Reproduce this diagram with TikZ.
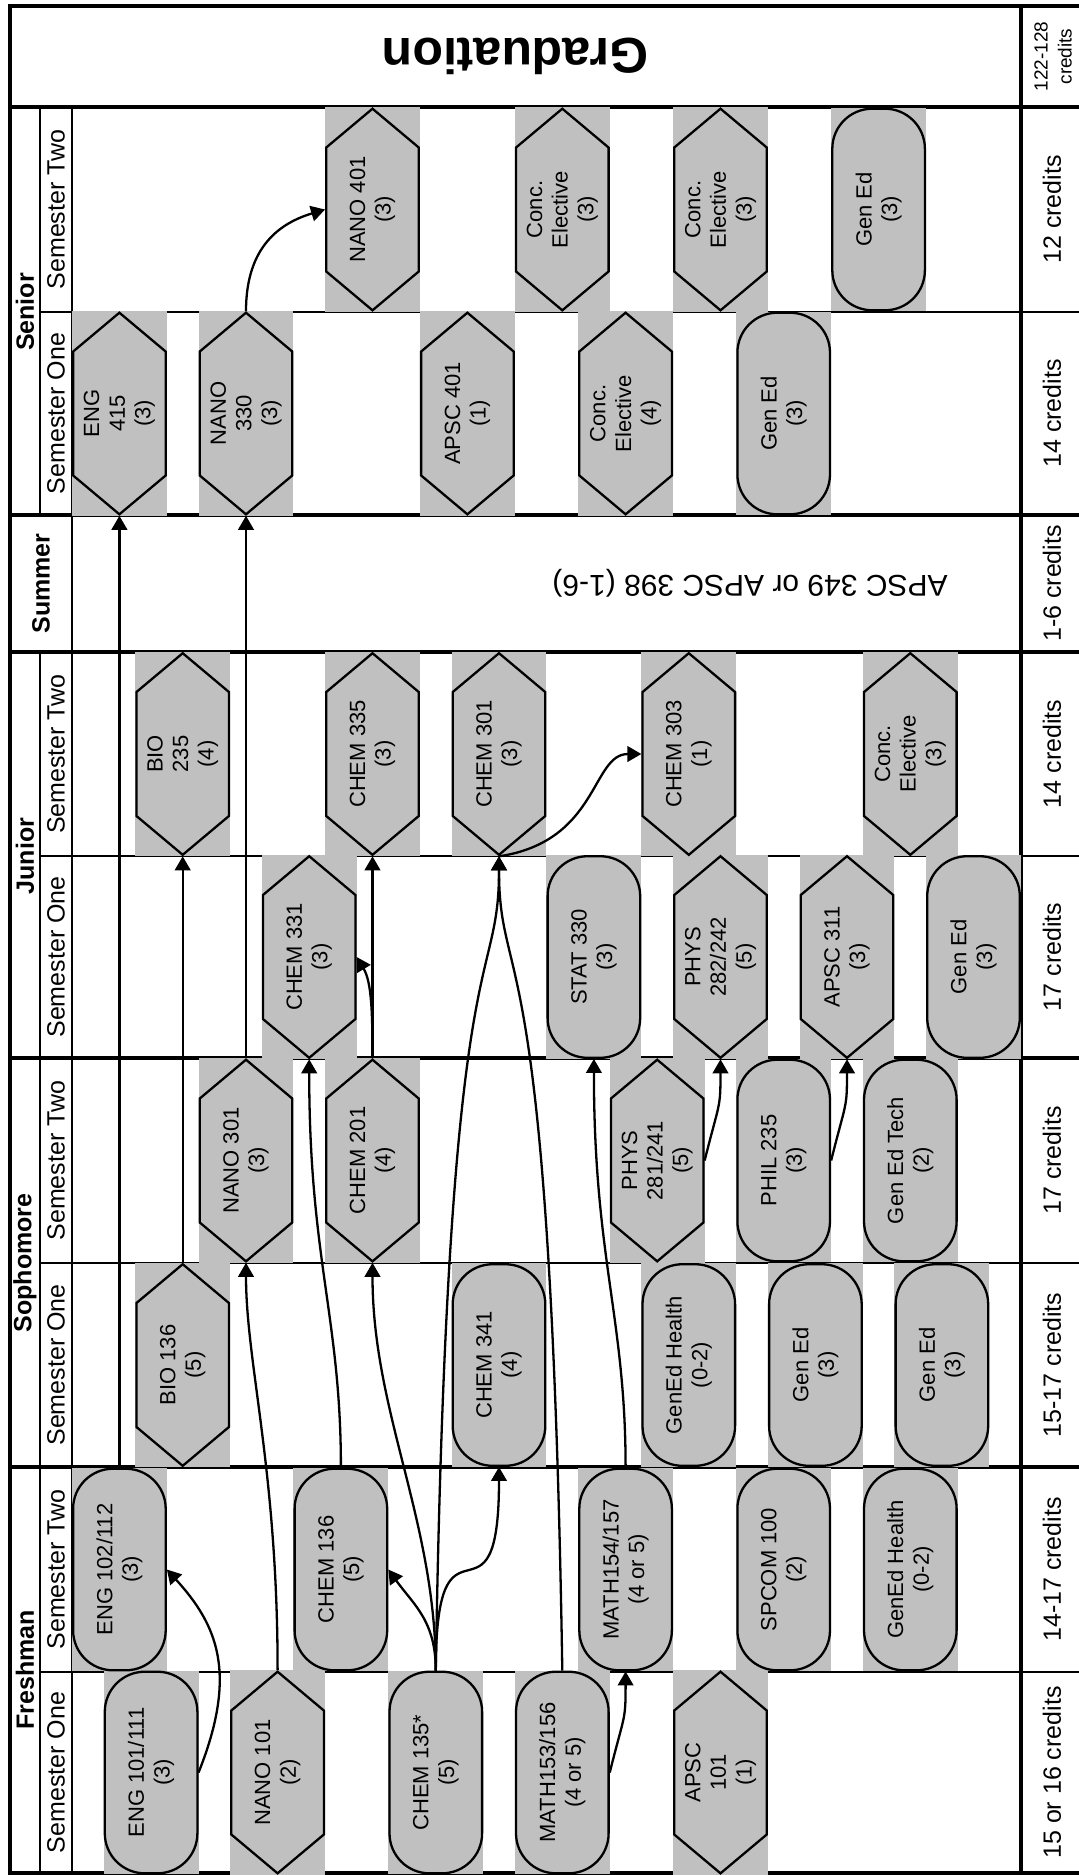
\documentclass[tikz,border=0pt]{standalone}
\usepackage{fontspec}
\setmainfont{Liberation Sans}
\usepackage{xcolor}
\usepackage{tikz}
\usetikzlibrary{shapes.symbols, arrows.meta, backgrounds}
\definecolor{cellgray}{RGB}{192,192,192}

\begin{document}
\begin{tikzpicture}[
  x=0.5pt, y=-0.5pt,
  every node/.style={font=\fontsize{11}{12.8}\selectfont},
  hexcourse/.style={
    signal, signal to=east and west, signal pointer angle=100,
    draw=black, fill=cellgray, line width=1.15pt,
    minimum width=100.8pt, minimum height=46.3pt,
    inner sep=0pt, align=center, rotate=90
  },
  roundcourse/.style={
    rectangle, rounded corners=20pt,
    draw=black, fill=cellgray, line width=1.15pt,
    minimum width=100.8pt, minimum height=46.3pt,
    inner sep=0pt, align=center, rotate=90
  },
  yearlabel/.style={font=\fontsize{12.5}{15}\selectfont\bfseries, rotate=90},
  semlabel/.style={font=\fontsize{12.5}{15}\selectfont, rotate=90},
  credits/.style={font=\fontsize{12.5}{15}\selectfont, rotate=90},
  gradlabel/.style={font=\fontsize{25}{30}\selectfont\bfseries, rotate=180},
  summertext/.style={font=\fontsize{15}{18}\selectfont, rotate=180},
  yearline/.style={line width=2.2pt},
  semline/.style={line width=1.1pt},
  stripline/.style={line width=1.2pt},
  creditline/.style={line width=1.6pt},
  prereq/.style={-{Triangle[length=7pt, width=7.8pt]}, line width=1.15pt}
]
\useasboundingbox (0,0) rectangle (1078,1875);

% ── Year and semester labels ─────────────────────────────────
\node[yearlabel] (freshman) at (25,1670) {Freshman};
\node[yearlabel] (sophomore) at (25,1263) {Sophomore};
\node[yearlabel] (junior) at (25,856) {Junior};
\node[yearlabel] (summer) at (41,583.5) {Summer};
\node[yearlabel] (senior) at (25,312) {Senior};

\node[semlabel] (frone) at (56,1772.5) {Semester One};
\node[semlabel] (frtwo) at (56,1569.5) {Semester Two};
\node[semlabel] (soone) at (56,1365) {Semester One};
\node[semlabel] (sotwo) at (56,1160.5) {Semester Two};
\node[semlabel] (juone) at (56,957) {Semester One};
\node[semlabel] (jutwo) at (56,754) {Semester Two};
\node[semlabel] (seone) at (56,413.5) {Semester One};
\node[semlabel] (setwo) at (56,209.5) {Semester Two};

% ── Credit totals ────────────────────────────────────────────
\node[credits] (froneCr) at (1052,1772.5) {15 or 16 credits};
\node[credits] (frtwoCr) at (1052,1569.5) {14-17 credits};
\node[credits] (sooneCr) at (1052,1365) {15-17 credits};
\node[credits] (sotwoCr) at (1052,1160.5) {17 credits};
\node[credits] (juoneCr) at (1052,957) {17 credits};
\node[credits] (jutwoCr) at (1052,754) {14 credits};
\node[credits] (summerCr) at (1052,583.5) {1-6 credits};
\node[credits] (seoneCr) at (1052,413.5) {14 credits};
\node[credits] (setwoCr) at (1052,209.5) {12 credits};
\node[credits, font=\fontsize{9.5}{12}\selectfont, align=center] (totalCr) at (1053,56.5) {122-128\\credits};

\node[gradlabel] (graduation) at (515.5,56.5) {Graduation};
\node[summertext] (summercourse) at (750,583.5) {APSC 349 or APSC 398 (1-6)};

% ── Freshman, semester one ───────────────────────────────────
\node[roundcourse] (eng101) at (151.1,1772.5) {ENG 101/111\\(3)};
\node[hexcourse] (nano101) at (277.6,1772.5) {NANO 101\\(2)};
\node[roundcourse] (chem135) at (435.8,1772.5) {CHEM 135*\\(5)};
\node[roundcourse] (math153) at (562.3,1772.5) {MATH153/156\\(4 or 5)};
\node[hexcourse] (apsc101) at (720.5,1772.5) {APSC\\101\\(1)};

% ── Freshman, semester two ───────────────────────────────────
\node[roundcourse] (eng102) at (119.4,1569.5) {ENG 102/112\\(3)};
\node[roundcourse] (chem136) at (340.9,1569.5) {CHEM 136\\(5)};
\node[roundcourse] (math154) at (625.6,1569.5) {MATH154/157\\(4 or 5)};
\node[roundcourse] (spcom100) at (783.7,1569.5) {SPCOM 100\\(2)};
\node[roundcourse] (healthA) at (910.3,1569.5) {GenEd Health\\(0-2)};

% ── Sophomore, semester one ──────────────────────────────────
\node[hexcourse] (bio136) at (182.7,1365) {BIO 136\\(5)};
\node[roundcourse] (chem341) at (499.0,1365) {CHEM 341\\(4)};
\node[roundcourse] (healthB) at (688.8,1365) {GenEd Health\\(0-2)};
\node[roundcourse] (genedA) at (815.4,1365) {Gen Ed\\(3)};
\node[roundcourse] (genedB) at (941.9,1365) {Gen Ed\\(3)};

% ── Sophomore, semester two ──────────────────────────────────
\node[hexcourse] (nano301) at (246.0,1160.5) {NANO 301\\(3)};
\node[hexcourse] (chem201) at (372.5,1160.5) {CHEM 201\\(4)};
\node[hexcourse] (phys281) at (657.2,1160.5) {PHYS\\281/241\\(5)};
\node[roundcourse] (phil235) at (783.7,1160.5) {PHIL 235\\(3)};
\node[roundcourse] (genedtech) at (910.3,1160.5) {Gen Ed Tech\\(2)};

% ── Junior, semester one ─────────────────────────────────────
\node[hexcourse] (chem331) at (309.2,957) {CHEM 331\\(3)};
\node[roundcourse] (stat330) at (593.9,957) {STAT 330\\(3)};
\node[hexcourse] (phys282) at (720.5,957) {PHYS\\282/242\\(5)};
\node[hexcourse] (apsc311) at (847.0,957) {APSC 311\\(3)};
\node[roundcourse] (genedC) at (973.5,957) {Gen Ed\\(3)};

% ── Junior, semester two ─────────────────────────────────────
\node[hexcourse] (bio235) at (182.7,754) {BIO\\235\\(4)};
\node[hexcourse] (chem335) at (372.5,754) {CHEM 335\\(3)};
\node[hexcourse] (chem301) at (499.0,754) {CHEM 301\\(3)};
\node[hexcourse] (chem303) at (688.8,754) {CHEM 303\\(1)};
\node[hexcourse] (concA) at (910.3,754) {Conc.\\Elective\\(3)};

% ── Senior, semester one ─────────────────────────────────────
\node[hexcourse] (eng415) at (119.4,413.5) {ENG\\415\\(3)};
\node[hexcourse] (nano330) at (246.0,413.5) {NANO\\330\\(3)};
\node[hexcourse] (apsc401) at (467.4,413.5) {APSC 401\\(1)};
\node[hexcourse] (concB) at (625.6,413.5) {Conc.\\Elective\\(4)};
\node[roundcourse] (genedD) at (783.7,413.5) {Gen Ed\\(3)};

% ── Senior, semester two ─────────────────────────────────────
\node[hexcourse] (nano401) at (372.5,209.5) {NANO 401\\(3)};
\node[hexcourse] (concC) at (562.3,209.5) {Conc.\\Elective\\(3)};
\node[hexcourse] (concD) at (720.5,209.5) {Conc.\\Elective\\(3)};
\node[roundcourse] (genedE) at (878.6,209.5) {Gen Ed\\(3)};

% ── Prerequisite arrows ──────────────────────────────────────
\draw[prereq] (eng101.south) .. controls +(40,-100) and +(50,55) .. (eng102.south);
\draw[prereq] (eng102.east) -- (eng415.west);
\draw[prereq] (nano101.east) .. controls +(0,-200) and +(0,100) .. (nano301.west);
\draw[prereq] (chem135.east) .. controls +(0,-50) and +(25,35) .. (chem136.south);
\draw[prereq] (chem135.east) .. controls +(0,-180) and +(0,180) .. (chem341.west);
\draw[prereq] (chem135.east) .. controls +(0,-150) and +(0,150) .. (chem201.west);
\draw[prereq] (chem135.east) .. controls +(12,-760) and +(0,140) .. (chem301.west);
\draw[prereq] (math153.south) .. controls +(15,-60) and +(0,50) .. (math154.west);
\draw[prereq] (math153.east) .. controls +(-12,-760) and +(0,140) .. (chem301.west);
\draw[prereq] (chem136.east) .. controls +(0,-150) and +(0,200) .. (chem331.west);
\draw[prereq] (math154.east) .. controls +(0,-150) and +(0,200) .. (stat330.west);
\draw[prereq] (bio136.east) -- (bio235.west);
\draw[prereq] (nano301.east) -- (nano330.west);
\draw[prereq] (chem201.east) -- (chem335.west);
\draw[prereq] (chem201.east) .. controls +(0,-45) and +(15,25) .. (chem331.south);
\draw[prereq] (phys281.south) .. controls +(15,-60) and +(0,50) .. (phys282.west);
\draw[prereq] (phil235.south) .. controls +(15,-60) and +(0,50) .. (apsc311.west);
\draw[prereq] (chem301.west) .. controls +(100,-15) and +(-50,0) .. (chem303.north);
\draw[prereq] (nano330.east) .. controls +(0,-60) and +(-50,15) .. (nano401.north);

% ── Grid and cell shading ────────────────────────────────────
\begin{scope}[on background layer]
  % frame runs past the right edge of the page
  \draw[yearline] (10,6) rectangle (1084,1873);
  \foreach \yy in {107,515,652,1058,1467}
    \draw[yearline] (10,\yy) -- (1084,\yy);
  \foreach \yy in {312,856,1263,1672}
    \draw[semline] (40,\yy) -- (1084,\yy);
  \draw[stripline] (40,107) -- (40,515) (40,652) -- (40,1873);
  \draw[stripline] (72,107) -- (72,1873);
  \draw[creditline] (1021,6) -- (1021,1873);
  \foreach \course in {eng101,nano101,chem135,math153,apsc101,
      eng102,chem136,math154,spcom100,healthA,
      bio136,chem341,healthB,genedA,genedB,
      nano301,chem201,phys281,phil235,genedtech,
      chem331,stat330,phys282,apsc311,genedC,
      bio235,chem335,chem301,chem303,concA,
      eng415,nano330,apsc401,concB,genedD,
      nano401,concC,concD,genedE}
    \fill[cellgray] (\course.north |- \course.west) rectangle (\course.south |- \course.east);
\end{scope}

\end{tikzpicture}
\end{document}
